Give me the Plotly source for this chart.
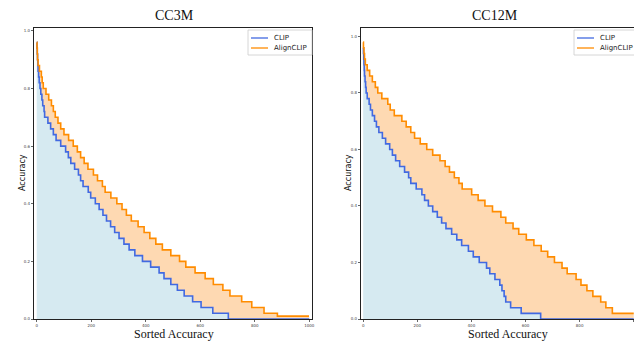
import plotly.graph_objects as go

# ---------------- data ----------------
# CC3M - CLIP: accuracy level of each step and the sorted-class index where it ends
cc3m_clip_levels = [0.96, 0.94, 0.92, 0.90, 0.88, 0.86, 0.84, 0.82, 0.80, 0.78,
                    0.76, 0.74, 0.72, 0.70, 0.68, 0.66, 0.64, 0.62, 0.60, 0.58,
                    0.56, 0.54, 0.52, 0.50, 0.48, 0.46, 0.44, 0.42, 0.40, 0.38,
                    0.36, 0.34, 0.32, 0.30, 0.28, 0.26, 0.24, 0.22, 0.20, 0.18,
                    0.16, 0.14, 0.12, 0.10, 0.08, 0.06, 0.04, 0.02, 0.00]
cc3m_clip_ends = [1, 2, 3, 4, 5, 7, 9, 12, 15, 19,
                  22, 27, 29, 41, 51, 61, 71, 88, 106, 116,
                  125, 139, 153, 161, 170, 189, 198, 215, 229, 243,
                  256, 271, 286, 302, 320, 339, 360, 388, 418, 449,
                  467, 492, 516, 541, 572, 603, 646, 703, 1000]

# CC3M - AlignCLIP
cc3m_align_levels = [0.96, 0.94, 0.92, 0.90, 0.88, 0.86, 0.84, 0.82, 0.80, 0.78,
                     0.76, 0.74, 0.72, 0.70, 0.68, 0.66, 0.64, 0.62, 0.60, 0.58,
                     0.56, 0.54, 0.52, 0.50, 0.48, 0.46, 0.44, 0.42, 0.40, 0.38,
                     0.36, 0.34, 0.32, 0.30, 0.28, 0.26, 0.24, 0.22, 0.20, 0.18,
                     0.16, 0.14, 0.12, 0.10, 0.08, 0.06, 0.04, 0.02, 0.01]
cc3m_align_ends = [1, 2, 3, 5, 10, 17, 20, 24, 34, 44,
                   54, 61, 68, 78, 88, 100, 117, 134, 149, 161,
                   174, 188, 208, 223, 241, 251, 272, 294, 313, 329,
                   347, 372, 394, 415, 437, 461, 492, 524, 547, 581,
                   618, 648, 683, 709, 752, 789, 834, 883, 999]

# CC12M - CLIP
cc12m_clip_levels = [0.96, 0.94, 0.92, 0.90, 0.88, 0.86, 0.84, 0.82, 0.80, 0.78,
                     0.76, 0.74, 0.72, 0.70, 0.68, 0.66, 0.64, 0.62, 0.60, 0.58,
                     0.56, 0.54, 0.52, 0.50, 0.48, 0.46, 0.44, 0.42, 0.40, 0.38,
                     0.36, 0.34, 0.32, 0.30, 0.28, 0.26, 0.24, 0.22, 0.20, 0.18,
                     0.16, 0.14, 0.12, 0.10, 0.08, 0.06, 0.04, 0.02, 0.00]
cc12m_clip_ends = [1, 2, 3, 4, 5, 7, 9, 11, 15, 22,
                   27, 34, 42, 49, 58, 71, 83, 98, 108, 120,
                   135, 153, 168, 176, 196, 217, 227, 241, 257, 274,
                   290, 306, 327, 346, 364, 389, 407, 429, 456, 468,
                   487, 505, 513, 521, 527, 545, 584, 656, 1000]

# CC12M - AlignCLIP
cc12m_align_levels = [0.98, 0.96, 0.94, 0.92, 0.90, 0.88, 0.86, 0.84, 0.82, 0.80,
                      0.78, 0.76, 0.74, 0.72, 0.70, 0.68, 0.66, 0.64, 0.62, 0.60,
                      0.58, 0.56, 0.54, 0.52, 0.50, 0.48, 0.46, 0.44, 0.42, 0.40,
                      0.38, 0.36, 0.34, 0.32, 0.30, 0.28, 0.26, 0.24, 0.22, 0.20,
                      0.18, 0.16, 0.14, 0.12, 0.10, 0.08, 0.06, 0.04, 0.02]
cc12m_align_ends = [1, 3, 5, 8, 15, 24, 34, 45, 54, 69,
                    91, 100, 115, 143, 159, 176, 190, 211, 235, 257,
                    284, 303, 319, 337, 354, 366, 401, 425, 450, 478,
                    509, 527, 554, 575, 603, 631, 658, 682, 707, 735,
                    754, 787, 805, 827, 849, 878, 897, 921, 1000]

titles = ["CC3M", "CC12M"]
series_names = ["CLIP", "AlignCLIP"]
x_tick_vals = [0, 200, 400, 600, 800, 1000]
y_tick_vals = [0.0, 0.2, 0.4, 0.6, 0.8, 1.0]

# ---------------- styling ----------------
W, H = 634, 342
BLUE = "#4169E1"
ORANGE = "#FF8C00"
BLUE_FILL = "#d6eaf1"
ORANGE_FILL = "#fed9b2"
SERIES_COLORS = [BLUE, ORANGE]


def step_xy(levels, ends):
    xs = [0] + list(ends)
    ys = list(levels) + [levels[-1]]
    return xs, ys


fig = go.Figure()

panels = [
    (cc3m_clip_levels, cc3m_clip_ends, cc3m_align_levels, cc3m_align_ends, "x", "y"),
    (cc12m_clip_levels, cc12m_clip_ends, cc12m_align_levels, cc12m_align_ends, "x2", "y2"),
]

for cl, ce, al, ae, xa, ya in panels:
    cx, cy = step_xy(cl, ce)
    ax_, ay_ = step_xy(al, ae)
    fig.add_trace(go.Scatter(x=cx, y=cy, xaxis=xa, yaxis=ya, mode="lines",
                             line=dict(width=0, shape="hv"), fill="tozeroy",
                             fillcolor=BLUE_FILL, showlegend=False, hoverinfo="skip"))
    fig.add_trace(go.Scatter(x=ax_, y=ay_, xaxis=xa, yaxis=ya, mode="lines",
                             line=dict(width=0, shape="hv"), fill="tonexty",
                             fillcolor=ORANGE_FILL, showlegend=False, hoverinfo="skip"))
    fig.add_trace(go.Scatter(x=cx, y=cy, xaxis=xa, yaxis=ya, mode="lines",
                             name=series_names[0], showlegend=False, cliponaxis=False,
                             line=dict(color=BLUE, width=1.6, shape="hv")))
    fig.add_trace(go.Scatter(x=ax_, y=ay_, xaxis=xa, yaxis=ya, mode="lines",
                             name=series_names[1], showlegend=False, cliponaxis=False,
                             line=dict(color=ORANGE, width=1.6, shape="hv")))


def px_x(p):
    return p / W


def px_y(p):
    return 1 - p / H


axis_common = dict(showgrid=False, zeroline=False, showline=True, linecolor="#222222",
                   linewidth=1.3, ticks="outside", ticklen=2, tickwidth=0.6,
                   automargin=False,
                   tickcolor="#666666", tickfont=dict(size=4, color="#444444",
                                                      family="DejaVu Sans"))

fig.update_layout(
    width=W, height=H,
    margin=dict(l=0, r=0, t=0, b=0, pad=0),
    paper_bgcolor="white", plot_bgcolor="white",
    showlegend=False,
    xaxis=dict(domain=[px_x(34), px_x(312)], range=[-10, 1010], anchor="y",
               tickvals=x_tick_vals, mirror=True, **axis_common),
    yaxis=dict(domain=[px_y(319), px_y(28)], range=[0, 1.01], anchor="x",
               tickvals=y_tick_vals, tickformat=".1f", mirror=True, **axis_common),
    xaxis2=dict(domain=[px_x(361), 1.0], range=[-8, 1001], anchor="y2",
                tickvals=x_tick_vals, mirror=True, **axis_common),
    yaxis2=dict(domain=[px_y(319), px_y(28)], range=[0, 1.03], anchor="x2",
                tickvals=y_tick_vals, tickformat=".1f", mirror=False, **axis_common),
)

# manual legends (box, line samples, labels) in paper pixel positions
legend_boxes = [(248, 30, 312, 55), (574, 30, 640, 55)]
for (x0, y0, x1, y1) in legend_boxes:
    fig.add_shape(type="rect", xref="paper", yref="paper",
                  x0=px_x(x0), x1=px_x(x1), y0=px_y(y0), y1=px_y(y1),
                  line=dict(color="#cccccc", width=0.8), fillcolor="white", layer="above")
    for i, name in enumerate(series_names):
        yy = y0 + 8 + i * 10
        fig.add_shape(type="line", xref="paper", yref="paper",
                      x0=px_x(x0 + 3), x1=px_x(x0 + 20), y0=px_y(yy), y1=px_y(yy),
                      line=dict(color=SERIES_COLORS[i], width=1.3), layer="above")
        fig.add_annotation(xref="paper", yref="paper", showarrow=False,
                           x=px_x(x0 + 24), y=px_y(yy), xanchor="left", yanchor="middle",
                           text=name, font=dict(size=7, family="DejaVu Sans", color="#222222"))

annotations = [
    dict(text=titles[0], x=px_x(174), y=px_y(15), font=dict(size=14, family="Liberation Serif", color="#111111")),
    dict(text=titles[1], x=px_x(495), y=px_y(15), font=dict(size=14, family="Liberation Serif", color="#111111")),
    dict(text="Sorted Accuracy", x=px_x(174), y=px_y(334), font=dict(size=12, family="Liberation Serif", color="#111111")),
    dict(text="Sorted Accuracy", x=px_x(508), y=px_y(334), font=dict(size=12, family="Liberation Serif", color="#111111")),
    dict(text="Accuracy", x=px_x(22), y=px_y(173), textangle=-90, font=dict(size=8, family="DejaVu Sans", color="#111111")),
    dict(text="Accuracy", x=px_x(348), y=px_y(173), textangle=-90, font=dict(size=8, family="DejaVu Sans", color="#111111")),
]
for a in annotations:
    fig.add_annotation(xref="paper", yref="paper", showarrow=False,
                       xanchor="center", yanchor="middle", **a)

fig.write_html("out.html",
               config={"displayModeBar": False},
               post_script="document.body.style.margin='0';document.body.style.overflow='hidden';")
